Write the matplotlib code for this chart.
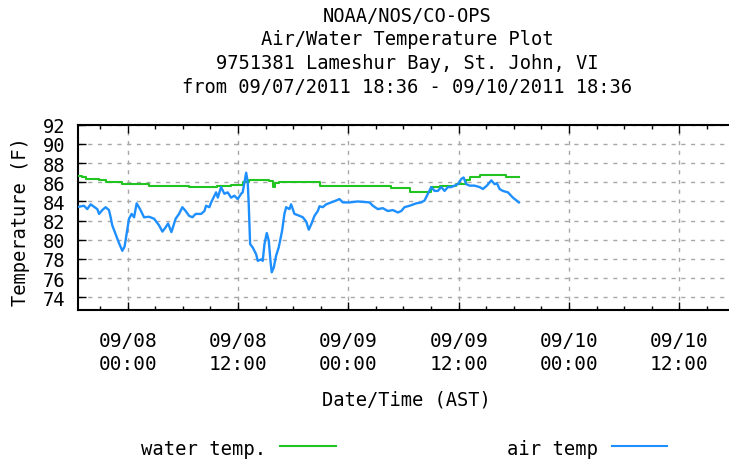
import matplotlib
matplotlib.use("Agg")
import matplotlib.pyplot as plt
import matplotlib.dates as mdates
import pandas as pd
from matplotlib.lines import Line2D

# ---- data ----
start_time = "2011-09-07 18:36"
end_time = "2011-09-10 18:36"

air_hours = [0.11, 0.65, 1.01, 1.37, 1.74, 2.10, 2.29, 2.64, 3.00, 3.37, 3.55, 3.73,
             4.09, 4.46, 4.82, 5.07, 5.29, 5.55, 5.83, 6.10, 6.38, 6.75, 7.18, 7.73,
             8.27, 8.82, 9.18, 9.53, 9.80, 10.16, 10.62, 10.99, 11.35, 11.71, 12.08,
             12.44, 12.80, 13.39, 13.75, 13.93, 14.29, 14.48, 14.84, 15.02, 15.21,
             15.56, 15.92, 16.28, 16.65, 17.01, 17.37, 17.74, 17.91, 18.10, 18.29,
             18.46, 18.57, 18.72, 19.00, 19.37, 19.55, 19.92, 20.09, 20.28, 20.53,
             20.75, 20.93, 21.07, 21.29, 21.55, 21.83, 22.20, 22.45, 22.64, 23.00,
             23.18, 23.54, 24.09, 24.45, 24.82, 25.10, 25.36, 25.72, 26.08, 26.27,
             26.62, 26.99, 27.54, 28.08, 28.44, 28.80, 29.53, 30.43, 31.71, 32.07,
             32.61, 33.15, 33.70, 34.24, 34.79, 35.16, 35.51, 36.06, 36.79, 37.33,
             37.69, 38.05, 38.42, 38.78, 39.14, 39.51, 39.87, 40.23, 40.60, 40.96,
             41.32, 41.69, 41.94, 42.23, 42.59, 43.13, 43.68, 44.04, 44.47, 44.95,
             45.31, 45.56, 45.85, 46.21, 46.76, 47.30, 47.95]
air_temp = [83.45, 83.55, 83.2, 83.7, 83.45, 83.2, 82.7, 83.1, 83.4, 83.1, 82.35, 81.5,
            80.6, 79.65, 78.85, 79.3, 80.6, 82.2, 82.7, 82.35, 83.8, 83.2, 82.35, 82.4,
            82.2, 81.5, 80.85, 81.3, 81.7, 80.8, 82.2, 82.7, 83.4, 83.0, 82.5,
            82.35, 82.7, 82.7, 83.0, 83.55, 83.4, 83.9, 84.6, 84.95, 84.4,
            85.5, 84.8, 84.95, 84.4, 84.6, 84.25, 84.8, 84.95, 86.0, 87.0,
            86.0, 83.7, 79.55, 79.2, 78.5, 77.8, 77.95, 77.8, 79.55, 80.7,
            79.9, 77.8, 76.6, 77.1, 78.35, 79.2, 80.95, 82.7, 83.4, 83.2,
            83.7, 82.7, 82.5, 82.35, 81.9, 81.05, 81.6, 82.5, 83.0, 83.5,
            83.4, 83.7, 83.9, 84.1, 84.25, 83.9, 83.9, 84.0, 83.9, 83.55,
            83.2, 83.3, 83.0, 83.1, 82.85, 83.0, 83.4, 83.55, 83.8, 83.9,
            84.1, 84.8, 85.5, 85.1, 85.1, 85.5, 85.1, 85.5, 85.5, 85.65,
            85.8, 86.35, 86.5, 85.8, 85.65, 85.65, 85.5, 85.3, 85.65, 86.2,
            85.8, 85.9, 85.3, 85.1, 84.95, 84.4, 83.9]

water_hours = [0.0, 0.47, 0.83, 2.29, 3.00, 4.82, 7.73, 12.11, 15.16, 16.65, 17.92,
               18.65, 20.82, 21.18, 21.48, 21.91, 26.27, 34.07, 36.06, 38.42, 39.32,
               41.14, 42.23, 42.59, 43.68, 46.58, 47.95]
water_temp = [86.7, 86.5, 86.35, 86.2, 86.0, 85.8, 85.65, 85.55, 85.65, 85.75, 86.0,
              86.25, 86.1, 85.55, 85.9, 86.0, 85.65, 85.4, 84.95, 85.5, 85.6,
              85.8, 86.2, 86.5, 86.75, 86.6, 86.6]

y_ticks = [74, 76, 78, 80, 82, 84, 86, 88, 90, 92]
title_lines = ["NOAA/NOS/CO-OPS", "Air/Water Temperature Plot",
               "9751381 Lameshur Bay, St. John, VI",
               "from 09/07/2011 18:36 - 09/10/2011 18:36"]

# ---- figure ----
W, H = 729, 464
fig = plt.figure(figsize=(W / 100, H / 100), dpi=100)
FONT = "DejaVu Sans Mono"
plt.rcParams["font.family"] = [FONT, "DejaVu Sans"]

left_px, right_px, top_px, bot_px = 78, 740, 125.8, 311
ax = fig.add_axes([left_px / W, 1 - bot_px / H, (right_px - left_px) / W,
                   (bot_px - top_px) / H])

t0 = pd.Timestamp(start_time)
air_t = t0 + pd.to_timedelta(air_hours, unit="h")
water_t = t0 + pd.to_timedelta(water_hours, unit="h")

green = "#22c422"
blue = "#1e8fff"
ax.plot(water_t, water_temp, color=green, lw=1.5, drawstyle="steps-post", zorder=3)
ax.plot(air_t, air_temp, color=blue, lw=1.7, zorder=4)

ax.set_xlim(pd.Timestamp(start_time), pd.Timestamp(end_time))
ax.set_ylim(72.67, 92)
ax.set_yticks(y_ticks)

ax.xaxis.set_major_locator(mdates.HourLocator(byhour=[0, 12]))
ax.xaxis.set_major_formatter(mdates.DateFormatter("%m/%d\n%H:%M"))
ax.xaxis.set_minor_locator(mdates.HourLocator(byhour=range(0, 24, 3)))

ax.tick_params(which="both", direction="in", top=True, right=True, color="black")
ax.tick_params(which="major", length=6, width=1)
ax.tick_params(which="minor", length=3, width=1)
ax.tick_params(axis="x", which="major", labelsize=14, pad=15)
ax.tick_params(axis="y", which="major", labelsize=13.5, pad=9)
for lab in ax.get_xticklabels():
    lab.set_linespacing(1.25)
    lab.set_family(FONT)
for lab in ax.get_yticklabels():
    lab.set_family(FONT)

ax.grid(True, which="major", color="#a8a8a8", linestyle=(0, (3, 4)), linewidth=1)
ax.set_axisbelow(True)
for sp in ax.spines.values():
    sp.set_linewidth(1.5)
    sp.set_color("black")

# titles
for i, line in enumerate(title_lines):
    fig.text(407 / W, 1 - (16 + 23.7 * i) / H, line, ha="center", va="center",
             fontsize=13.5, family=FONT)

fig.text(21 / W, 1 - 222 / H, "Temperature (F)", rotation=90, ha="center",
         va="center", fontsize=13.5, family=FONT)
fig.text(406.7 / W, 1 - 399.7 / H, "Date/Time (AST)", ha="center", va="center",
         fontsize=13.5, family=FONT)

# legend
fig.text(141.3 / W, 1 - 449.7 / H, "water temp.", ha="left", va="center",
         fontsize=13.6, family=FONT)
fig.add_artist(Line2D([280 / W, 335.7 / W], [1 - 447.3 / H, 1 - 447.3 / H],
                      color=green, lw=1.5))
fig.text(506.7 / W, 1 - 449.7 / H, "air temp", ha="left", va="center",
         fontsize=13.6, family=FONT)
fig.add_artist(Line2D([611.7 / W, 666.7 / W], [1 - 447.3 / H, 1 - 447.3 / H],
                      color=blue, lw=1.5))

fig.savefig("out.png", dpi=100)
